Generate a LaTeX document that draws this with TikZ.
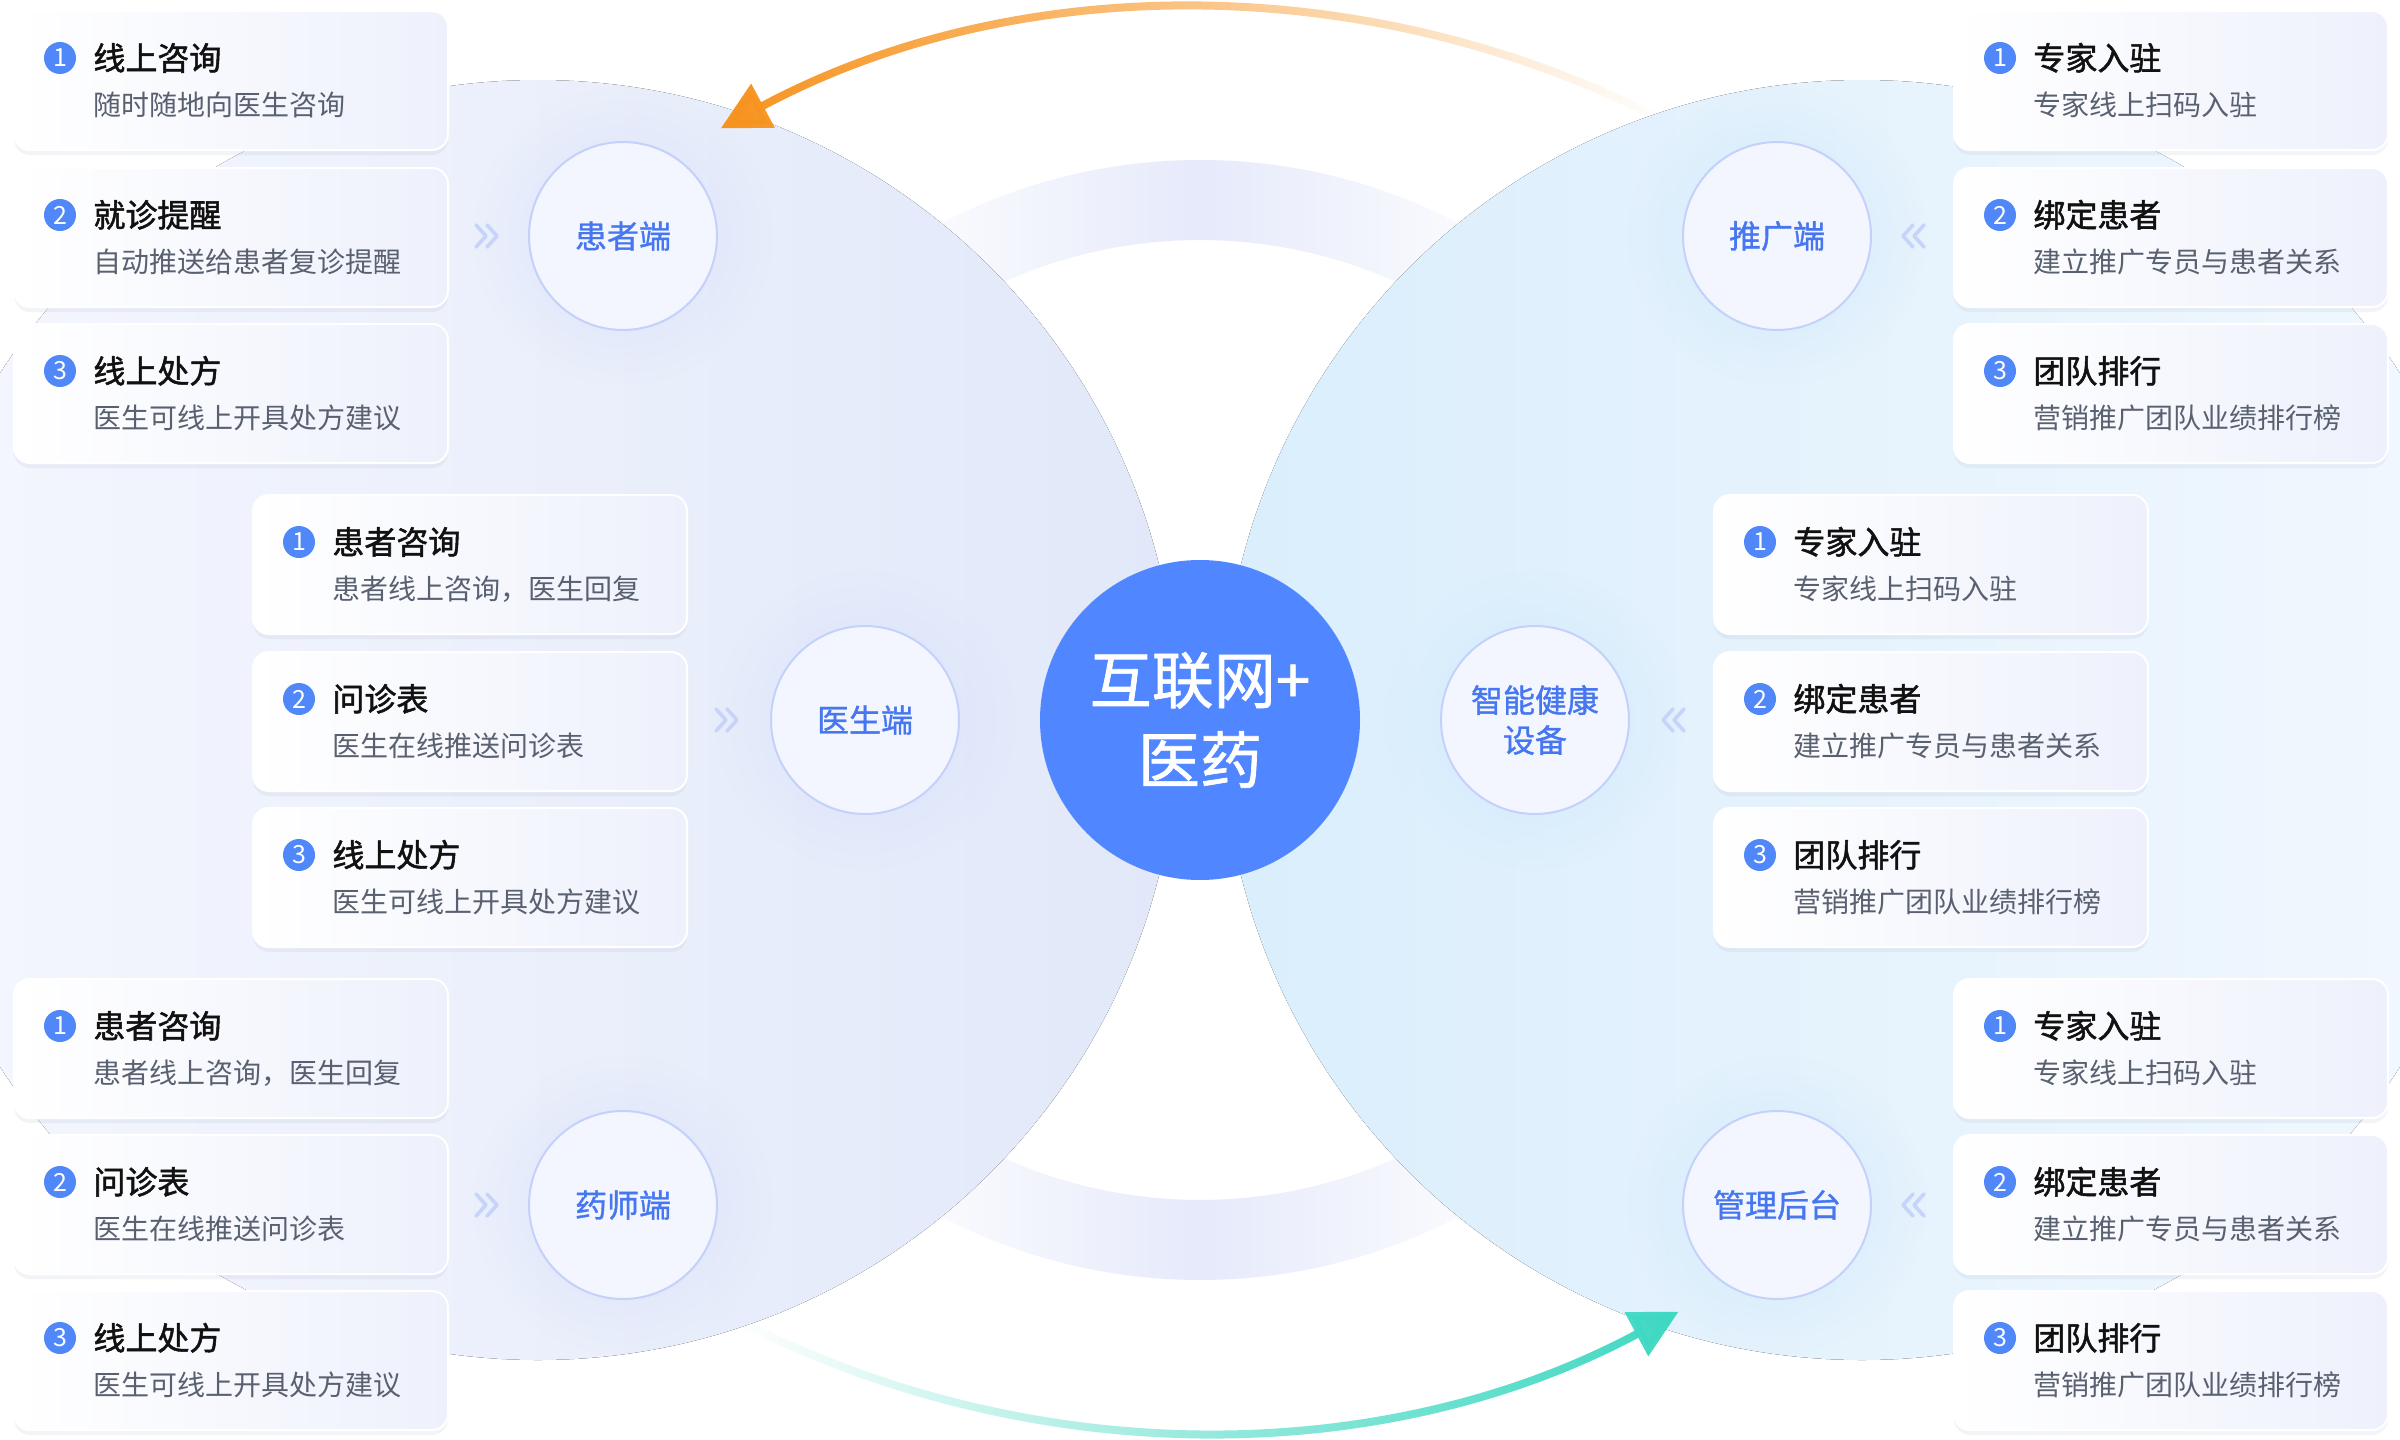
\documentclass[tikz,border=0pt]{standalone}
\usepackage{fontspec}
\setmainfont{Noto Sans CJK SC}
\newfontfamily\medfont[FakeBold=1.1]{Noto Sans CJK SC}
\newfontfamily\semifont[FakeBold=1.6]{Noto Sans CJK SC}
\usetikzlibrary{arrows.meta,shadows,fadings}
\definecolor{lcA}{HTML}{F5F7FE}
\definecolor{lcB}{HTML}{E1E8F9}
\definecolor{rcA}{HTML}{DAEEFC}
\definecolor{rcB}{HTML}{F2F8FE}
\definecolor{bandc}{HTML}{E6EAFB}
\definecolor{cardR}{HTML}{EEF1FC}
\definecolor{epfill}{HTML}{F3F6FE}
\definecolor{epline}{HTML}{C3D1FB}
\definecolor{labc}{HTML}{4677F0}
\definecolor{badgec}{HTML}{5087F9}
\definecolor{titlec}{HTML}{111111}
\definecolor{subc}{HTML}{596070}
\definecolor{hubc}{HTML}{5086FF}
\definecolor{chevc}{HTML}{C6D3FB}
\definecolor{arrO}{HTML}{F7931E}
\definecolor{arrT}{HTML}{3FD8C2}
\definecolor{haloL}{HTML}{D7E0FA}
\definecolor{haloR}{HTML}{CFE8FC}
\definecolor{shadc}{HTML}{8C96B4}
\tikzfading[name=fadeLR, left color=transparent!0, right color=transparent!100, middle color=transparent!45]
\tikzfading[name=fadeRL, left color=transparent!100, right color=transparent!0, middle color=transparent!45]
\tikzfading[name=bandF, left color=transparent!100, right color=transparent!100, middle color=transparent!0]
\tikzfading[name=haloF, inner color=transparent!20, outer color=transparent!100]
\newcommand\mkcard[6]{%
  \node[cardbox] (#1) at (#2,#3) {};
  \node[badge] (#1n) at ([shift={(47,48)}]#1.north west) {#4};
  \node[ttl] (#1t) at ([shift={(80,60)}]#1.north west) {#5};
  \node[subt] (#1s) at ([shift={(80,105)}]#1.north west) {#6};
}
\newcommand\chevright[1]{%
  \draw[chev] ([shift={(-11,-11)}]#1) -- ([shift={(-1,0)}]#1) -- ([shift={(-11,11)}]#1);
  \draw[chev] ([shift={(0,-11)}]#1) -- ([shift={(10,0)}]#1) -- ([shift={(0,11)}]#1);
}
\newcommand\chevleft[1]{%
  \draw[chev] ([shift={(11,-11)}]#1) -- ([shift={(1,0)}]#1) -- ([shift={(11,11)}]#1);
  \draw[chev] ([shift={(0,-11)}]#1) -- ([shift={(-10,0)}]#1) -- ([shift={(0,11)}]#1);
}
\begin{document}
\begin{tikzpicture}[x=0.5pt,y=-0.5pt,
  cardbox/.style={rectangle, rounded corners=8pt, minimum width=217pt, minimum height=69.5pt,
    anchor=north west, inner sep=0pt, draw=white, line width=1pt,
    left color=white, right color=cardR,
    drop shadow={shadow xshift=0pt, shadow yshift=-2.5pt, fill=shadc, opacity=0.10, draw=none}},
  badge/.style={circle, fill=badgec, text=white, minimum size=16pt, inner sep=0pt,
    font=\fontsize{12.5pt}{12.5pt}\selectfont},
  ttl/.style={anchor=base west, inner sep=0pt, text=titlec, font=\fontsize{16pt}{18pt}\semifont},
  subt/.style={anchor=base west, inner sep=0pt, text=subc, font=\fontsize{14pt}{16pt}\selectfont},
  ep/.style={circle, minimum size=94pt, inner sep=0pt, fill=epfill, draw=epline, line width=1pt,
    text=labc, align=center, font=\fontsize{16pt}{20pt}\medfont},
  hub/.style={circle, minimum size=160pt, inner sep=0pt, fill=hubc, text=white, align=center,
    font=\fontsize{31pt}{40pt}\medfont},
  chev/.style={draw=chevc, line width=1.8pt, line cap=round, line join=round}
]
\useasboundingbox (0,0) rectangle (2400,1440);
\fill[white] (0,0) rectangle (2400,1440);
\clip (0,0) rectangle (2400,1440);
\coordinate (ctr) at (1200,720);

% decorative bands
\fill[bandc, path fading=bandF, fit fading=true]
  ([shift={(-125:560)}]ctr) arc[start angle=-125, end angle=-55, radius=560]
  -- ([shift={(-55:480)}]ctr) arc[start angle=-55, end angle=-125, radius=480] -- cycle;
\fill[bandc, path fading=bandF, fit fading=true]
  ([shift={(125:560)}]ctr) arc[start angle=125, end angle=55, radius=560]
  -- ([shift={(55:480)}]ctr) arc[start angle=55, end angle=125, radius=480] -- cycle;

% big circles
\fill[left color=lcA, right color=lcB] (538,720) circle [radius=640];
\fill[left color=rcA, right color=rcB] (1862,720) circle [radius=640];

% arcs
\coordinate (oC) at (1200,1022);
\coordinate (tC) at (1200,418);
\coordinate (oS) at ([shift={(-63.3:1014)}]oC);
\coordinate (tS) at ([shift={(116.7:1014)}]tC);
\draw[arrO, line width=4pt, path fading=fadeLR, fit fading=true,
  -{Triangle[length=24pt,width=24pt]}]
  (oS) arc[start angle=-63.3, end angle=-118.2, radius=1014] coordinate (oE);
\draw[arrT, line width=4pt, path fading=fadeRL, fit fading=true,
  -{Triangle[length=24pt,width=24pt]}]
  (tS) arc[start angle=116.7, end angle=61.8, radius=1014] coordinate (tE);

% endpoint circles
\coordinate (cPat) at (623,236);
\coordinate (cDoc) at (865,720);
\coordinate (cPha) at (623,1205);
\coordinate (cPro) at (1777,236);
\coordinate (cDev) at (1535,720);
\coordinate (cAdm) at (1777,1205);
\foreach \c in {cPat,cDoc,cPha} \fill[haloL, path fading=haloF, fit fading=true] (\c) circle [radius=150];
\foreach \c in {cPro,cDev,cAdm} \fill[haloR, path fading=haloF, fit fading=true] (\c) circle [radius=150];
\node[ep] (pat) at (cPat) {患者端};
\node[ep] (doc) at (cDoc) {医生端};
\node[ep] (pha) at (cPha) {药师端};
\node[ep] (pro) at (cPro) {推广端};
\node[ep] (dev) at (cDev) {智能健康\\设备};
\node[ep] (adm) at (cAdm) {管理后台};

% chevrons
\coordinate (v1) at (487,236);
\coordinate (v2) at (727,720);
\coordinate (v3) at (487,1205);
\coordinate (v4) at (1913,236);
\coordinate (v5) at (1673,720);
\coordinate (v6) at (1913,1205);
\chevright{v1}\chevright{v2}\chevright{v3}
\chevleft{v4}\chevleft{v5}\chevleft{v6}

% cards: left column (patient)
\mkcard{pa1}{13}{10}{1}{线上咨询}{随时随地向医生咨询}
\mkcard{pa2}{13}{167}{2}{就诊提醒}{自动推送给患者复诊提醒}
\mkcard{pa3}{13}{323}{3}{线上处方}{医生可线上开具处方建议}
% doctor
\mkcard{do1}{252}{494}{1}{患者咨询}{患者线上咨询，医生回复}
\mkcard{do2}{252}{651}{2}{问诊表}{医生在线推送问诊表}
\mkcard{do3}{252}{807}{3}{线上处方}{医生可线上开具处方建议}
% pharmacist
\mkcard{ph1}{13}{978}{1}{患者咨询}{患者线上咨询，医生回复}
\mkcard{ph2}{13}{1134}{2}{问诊表}{医生在线推送问诊表}
\mkcard{ph3}{13}{1290}{3}{线上处方}{医生可线上开具处方建议}
% promotion
\mkcard{pr1}{1953}{10}{1}{专家入驻}{专家线上扫码入驻}
\mkcard{pr2}{1953}{167}{2}{绑定患者}{建立推广专员与患者关系}
\mkcard{pr3}{1953}{323}{3}{团队排行}{营销推广团队业绩排行榜}
% device
\mkcard{de1}{1713}{494}{1}{专家入驻}{专家线上扫码入驻}
\mkcard{de2}{1713}{651}{2}{绑定患者}{建立推广专员与患者关系}
\mkcard{de3}{1713}{807}{3}{团队排行}{营销推广团队业绩排行榜}
% admin
\mkcard{ad1}{1953}{978}{1}{专家入驻}{专家线上扫码入驻}
\mkcard{ad2}{1953}{1134}{2}{绑定患者}{建立推广专员与患者关系}
\mkcard{ad3}{1953}{1290}{3}{团队排行}{营销推广团队业绩排行榜}

% hub
\node[hub] (hub) at (ctr) {互联网+\\医药};
\end{tikzpicture}
\end{document}
